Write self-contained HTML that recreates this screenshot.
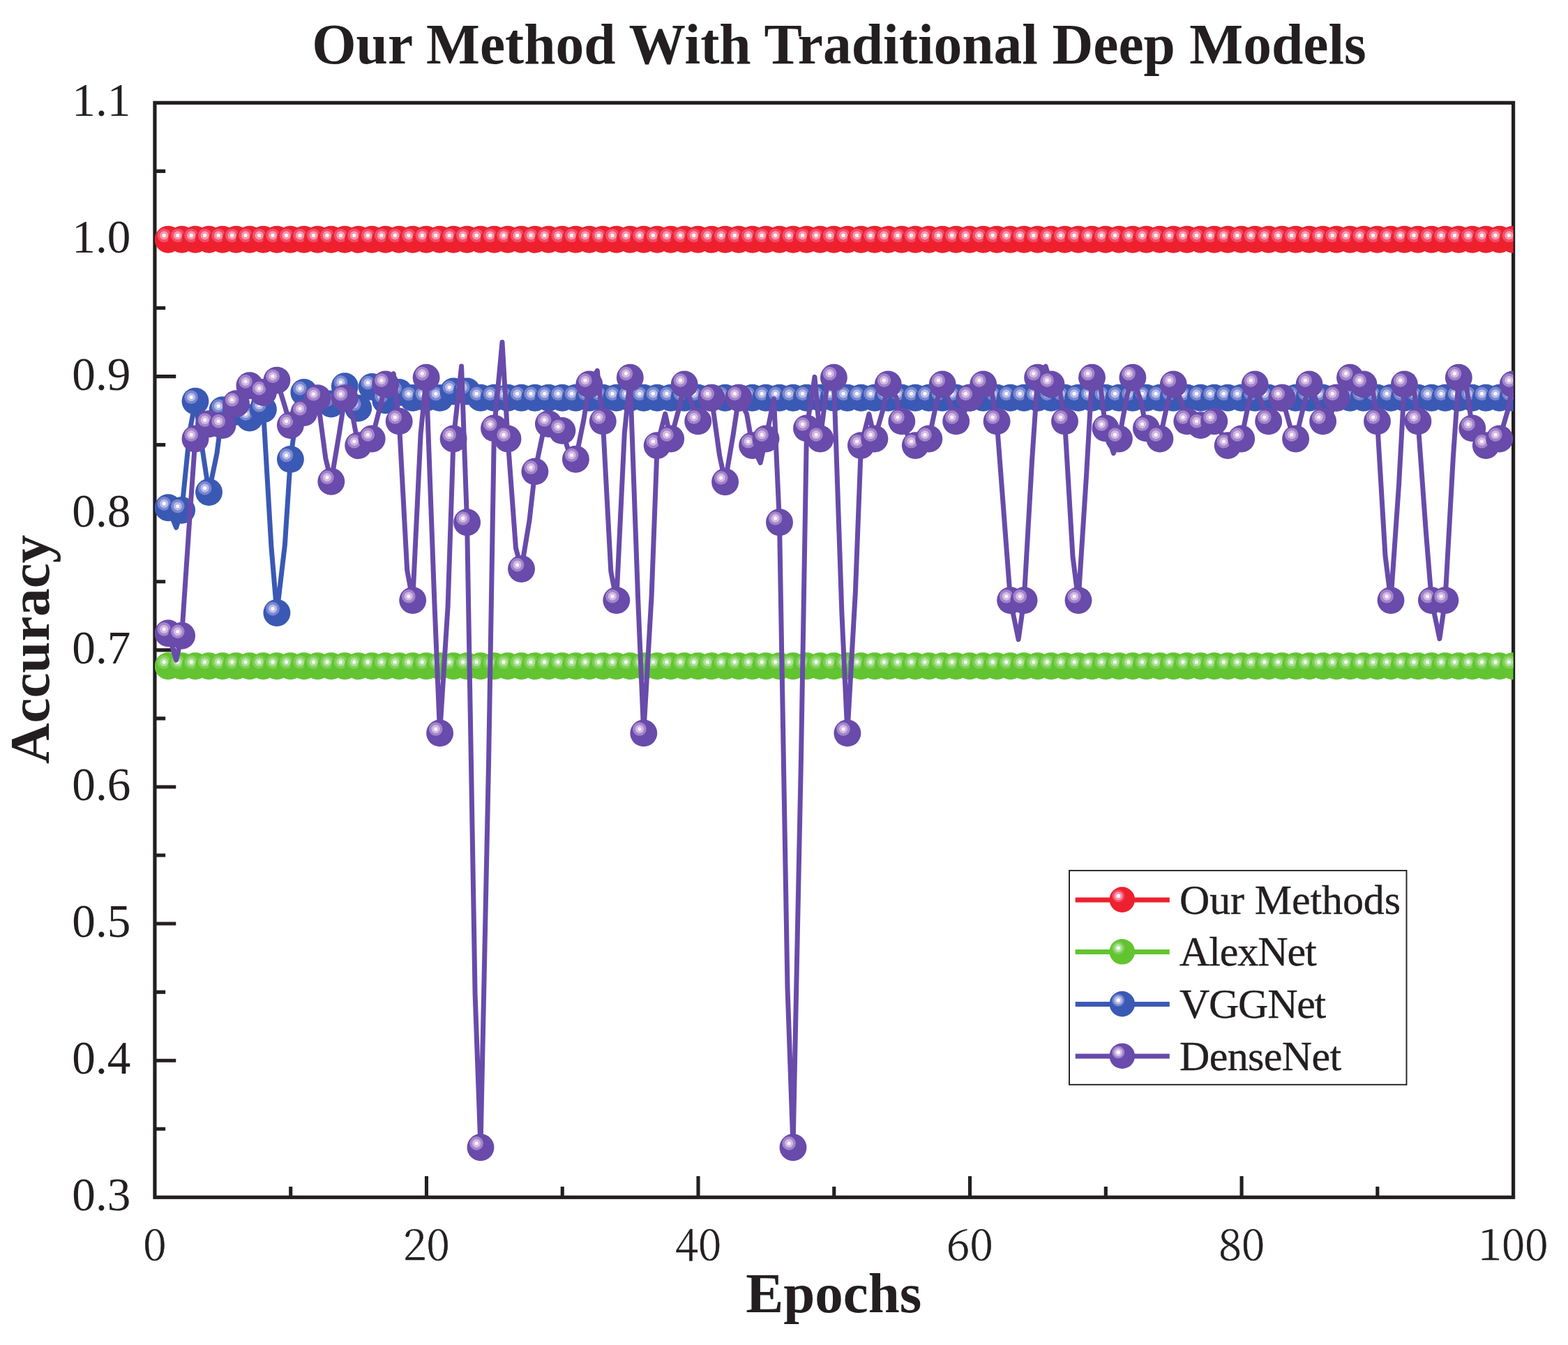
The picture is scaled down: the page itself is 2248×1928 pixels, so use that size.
<!DOCTYPE html>
<html lang="en"><head><meta charset="utf-8"><title>Our Method With Traditional Deep Models</title>
<style>
html,body{margin:0;padding:0;background:#fff;}
body{width:2248px;height:1928px;overflow:hidden;}
svg{display:block;position:absolute;left:0;top:0;}
text{fill:#231f20;font-family:"Liberation Serif",serif;}
.b{font-weight:700;}
.xt{font-family:"Noto Serif CJK SC","Liberation Serif",serif;font-weight:300;}
</style></head><body>
<svg width="2248" height="1928" viewBox="0 0 2248 1928">
<defs>
<clipPath id="pc"><rect x="221.95" y="147.35" width="1947.65" height="1568.95"/></clipPath>
<g id="m-red"><circle r="19.45" fill="#ee202e"/><circle cx="-5.85" cy="-5.85" r="9.8" fill="#f24e6a"/><circle cx="-5.85" cy="-5.85" r="6.1" fill="#f798ac"/><circle cx="-5.85" cy="-5.85" r="2.6" fill="#fffafc"/></g>
<g id="l-red"><circle r="18.3" fill="#ee202e"/><circle cx="-5.5" cy="-5.3" r="8.9" fill="#f24e6a"/><circle cx="-5.5" cy="-5.3" r="6" fill="#f798ac"/><circle cx="-5.5" cy="-5.3" r="2.8" fill="#fffafc"/></g>
<g id="m-green"><circle r="19.45" fill="#62c431"/><circle cx="-5.85" cy="-5.85" r="9.8" fill="#80d058"/><circle cx="-5.85" cy="-5.85" r="6.1" fill="#ace298"/><circle cx="-5.85" cy="-5.85" r="2.6" fill="#fafef8"/></g>
<g id="l-green"><circle r="18.3" fill="#62c431"/><circle cx="-5.5" cy="-5.3" r="8.9" fill="#80d058"/><circle cx="-5.5" cy="-5.3" r="6" fill="#ace298"/><circle cx="-5.5" cy="-5.3" r="2.8" fill="#fafef8"/></g>
<g id="m-blue"><circle r="19.45" fill="#3a59b4"/><circle cx="-5.85" cy="-5.85" r="9.8" fill="#7a87d0"/><circle cx="-5.85" cy="-5.85" r="6.1" fill="#b8bee8"/><circle cx="-5.85" cy="-5.85" r="2.6" fill="#fcfcff"/></g>
<g id="l-blue"><circle r="18.3" fill="#3a59b4"/><circle cx="-5.5" cy="-5.3" r="8.9" fill="#7a87d0"/><circle cx="-5.5" cy="-5.3" r="6" fill="#b8bee8"/><circle cx="-5.5" cy="-5.3" r="2.8" fill="#fcfcff"/></g>
<g id="m-purple"><circle r="19.45" fill="#684baa"/><circle cx="-5.85" cy="-5.85" r="9.8" fill="#a484ca"/><circle cx="-5.85" cy="-5.85" r="6.1" fill="#d3b8e2"/><circle cx="-5.85" cy="-5.85" r="2.6" fill="#fdf7fc"/></g>
<g id="l-purple"><circle r="18.3" fill="#684baa"/><circle cx="-5.5" cy="-5.3" r="8.9" fill="#a484ca"/><circle cx="-5.5" cy="-5.3" r="6" fill="#d3b8e2"/><circle cx="-5.5" cy="-5.3" r="2.8" fill="#fdf7fc"/></g>
</defs>
<rect width="2248" height="1928" fill="#fff"/>
<rect x="221.95" y="147.35" width="1947.65" height="1568.95" fill="none" stroke="#231f20" stroke-width="5.2"/>
<path d="M221.95 1618.24h15.20M221.95 1520.18h30.30M221.95 1422.12h15.20M221.95 1324.06h30.30M221.95 1226.00h15.20M221.95 1127.94h30.30M221.95 1029.88h15.20M221.95 931.83h30.30M221.95 833.77h15.20M221.95 735.71h30.30M221.95 637.65h15.20M221.95 539.59h30.30M221.95 441.53h15.20M221.95 343.47h30.30M221.95 245.41h15.20M416.71 1716.30v-15.20M611.48 1716.30v-30.30M806.24 1716.30v-15.20M1001.01 1716.30v-30.30M1195.78 1716.30v-15.20M1390.54 1716.30v-30.30M1585.31 1716.30v-15.20M1780.07 1716.30v-30.30M1974.84 1716.30v-15.20" fill="none" stroke="#231f20" stroke-width="5.1"/>
<g clip-path="url(#pc)">
<path d="M241.43 343.27H2169.60" fill="none" stroke="#ee202e" stroke-width="7.0" stroke-linejoin="round" stroke-linecap="round"/>
<g><use href="#m-red" x="241.1" y="343.3"/><use href="#m-red" x="260.6" y="343.3"/><use href="#m-red" x="280.0" y="343.3"/><use href="#m-red" x="299.5" y="343.3"/><use href="#m-red" x="319.0" y="343.3"/><use href="#m-red" x="338.5" y="343.3"/><use href="#m-red" x="357.9" y="343.3"/><use href="#m-red" x="377.4" y="343.3"/><use href="#m-red" x="396.9" y="343.3"/><use href="#m-red" x="416.4" y="343.3"/><use href="#m-red" x="435.8" y="343.3"/><use href="#m-red" x="455.3" y="343.3"/><use href="#m-red" x="474.8" y="343.3"/><use href="#m-red" x="494.3" y="343.3"/><use href="#m-red" x="513.7" y="343.3"/><use href="#m-red" x="533.2" y="343.3"/><use href="#m-red" x="552.7" y="343.3"/><use href="#m-red" x="572.2" y="343.3"/><use href="#m-red" x="591.7" y="343.3"/><use href="#m-red" x="611.1" y="343.3"/><use href="#m-red" x="630.6" y="343.3"/><use href="#m-red" x="650.1" y="343.3"/><use href="#m-red" x="669.6" y="343.3"/><use href="#m-red" x="689.0" y="343.3"/><use href="#m-red" x="708.5" y="343.3"/><use href="#m-red" x="728.0" y="343.3"/><use href="#m-red" x="747.5" y="343.3"/><use href="#m-red" x="766.9" y="343.3"/><use href="#m-red" x="786.4" y="343.3"/><use href="#m-red" x="805.9" y="343.3"/><use href="#m-red" x="825.4" y="343.3"/><use href="#m-red" x="844.8" y="343.3"/><use href="#m-red" x="864.3" y="343.3"/><use href="#m-red" x="883.8" y="343.3"/><use href="#m-red" x="903.3" y="343.3"/><use href="#m-red" x="922.8" y="343.3"/><use href="#m-red" x="942.2" y="343.3"/><use href="#m-red" x="961.7" y="343.3"/><use href="#m-red" x="981.2" y="343.3"/><use href="#m-red" x="1000.7" y="343.3"/><use href="#m-red" x="1020.1" y="343.3"/><use href="#m-red" x="1039.6" y="343.3"/><use href="#m-red" x="1059.1" y="343.3"/><use href="#m-red" x="1078.6" y="343.3"/><use href="#m-red" x="1098.0" y="343.3"/><use href="#m-red" x="1117.5" y="343.3"/><use href="#m-red" x="1137.0" y="343.3"/><use href="#m-red" x="1156.5" y="343.3"/><use href="#m-red" x="1175.9" y="343.3"/><use href="#m-red" x="1195.4" y="343.3"/><use href="#m-red" x="1214.9" y="343.3"/><use href="#m-red" x="1234.4" y="343.3"/><use href="#m-red" x="1253.9" y="343.3"/><use href="#m-red" x="1273.3" y="343.3"/><use href="#m-red" x="1292.8" y="343.3"/><use href="#m-red" x="1312.3" y="343.3"/><use href="#m-red" x="1331.8" y="343.3"/><use href="#m-red" x="1351.2" y="343.3"/><use href="#m-red" x="1370.7" y="343.3"/><use href="#m-red" x="1390.2" y="343.3"/><use href="#m-red" x="1409.7" y="343.3"/><use href="#m-red" x="1429.1" y="343.3"/><use href="#m-red" x="1448.6" y="343.3"/><use href="#m-red" x="1468.1" y="343.3"/><use href="#m-red" x="1487.6" y="343.3"/><use href="#m-red" x="1507.0" y="343.3"/><use href="#m-red" x="1526.5" y="343.3"/><use href="#m-red" x="1546.0" y="343.3"/><use href="#m-red" x="1565.5" y="343.3"/><use href="#m-red" x="1585.0" y="343.3"/><use href="#m-red" x="1604.4" y="343.3"/><use href="#m-red" x="1623.9" y="343.3"/><use href="#m-red" x="1643.4" y="343.3"/><use href="#m-red" x="1662.9" y="343.3"/><use href="#m-red" x="1682.3" y="343.3"/><use href="#m-red" x="1701.8" y="343.3"/><use href="#m-red" x="1721.3" y="343.3"/><use href="#m-red" x="1740.8" y="343.3"/><use href="#m-red" x="1760.2" y="343.3"/><use href="#m-red" x="1779.7" y="343.3"/><use href="#m-red" x="1799.2" y="343.3"/><use href="#m-red" x="1818.7" y="343.3"/><use href="#m-red" x="1838.1" y="343.3"/><use href="#m-red" x="1857.6" y="343.3"/><use href="#m-red" x="1877.1" y="343.3"/><use href="#m-red" x="1896.6" y="343.3"/><use href="#m-red" x="1916.1" y="343.3"/><use href="#m-red" x="1935.5" y="343.3"/><use href="#m-red" x="1955.0" y="343.3"/><use href="#m-red" x="1974.5" y="343.3"/><use href="#m-red" x="1994.0" y="343.3"/><use href="#m-red" x="2013.4" y="343.3"/><use href="#m-red" x="2032.9" y="343.3"/><use href="#m-red" x="2052.4" y="343.3"/><use href="#m-red" x="2071.9" y="343.3"/><use href="#m-red" x="2091.3" y="343.3"/><use href="#m-red" x="2110.8" y="343.3"/><use href="#m-red" x="2130.3" y="343.3"/><use href="#m-red" x="2149.8" y="343.3"/><use href="#m-red" x="2169.2" y="343.3"/></g>
<path d="M241.43 954.77H2169.60" fill="none" stroke="#62c431" stroke-width="7.0" stroke-linejoin="round" stroke-linecap="round"/>
<g><use href="#m-green" x="241.1" y="954.8"/><use href="#m-green" x="260.6" y="954.8"/><use href="#m-green" x="280.0" y="954.8"/><use href="#m-green" x="299.5" y="954.8"/><use href="#m-green" x="319.0" y="954.8"/><use href="#m-green" x="338.5" y="954.8"/><use href="#m-green" x="357.9" y="954.8"/><use href="#m-green" x="377.4" y="954.8"/><use href="#m-green" x="396.9" y="954.8"/><use href="#m-green" x="416.4" y="954.8"/><use href="#m-green" x="435.8" y="954.8"/><use href="#m-green" x="455.3" y="954.8"/><use href="#m-green" x="474.8" y="954.8"/><use href="#m-green" x="494.3" y="954.8"/><use href="#m-green" x="513.7" y="954.8"/><use href="#m-green" x="533.2" y="954.8"/><use href="#m-green" x="552.7" y="954.8"/><use href="#m-green" x="572.2" y="954.8"/><use href="#m-green" x="591.7" y="954.8"/><use href="#m-green" x="611.1" y="954.8"/><use href="#m-green" x="630.6" y="954.8"/><use href="#m-green" x="650.1" y="954.8"/><use href="#m-green" x="669.6" y="954.8"/><use href="#m-green" x="689.0" y="954.8"/><use href="#m-green" x="708.5" y="954.8"/><use href="#m-green" x="728.0" y="954.8"/><use href="#m-green" x="747.5" y="954.8"/><use href="#m-green" x="766.9" y="954.8"/><use href="#m-green" x="786.4" y="954.8"/><use href="#m-green" x="805.9" y="954.8"/><use href="#m-green" x="825.4" y="954.8"/><use href="#m-green" x="844.8" y="954.8"/><use href="#m-green" x="864.3" y="954.8"/><use href="#m-green" x="883.8" y="954.8"/><use href="#m-green" x="903.3" y="954.8"/><use href="#m-green" x="922.8" y="954.8"/><use href="#m-green" x="942.2" y="954.8"/><use href="#m-green" x="961.7" y="954.8"/><use href="#m-green" x="981.2" y="954.8"/><use href="#m-green" x="1000.7" y="954.8"/><use href="#m-green" x="1020.1" y="954.8"/><use href="#m-green" x="1039.6" y="954.8"/><use href="#m-green" x="1059.1" y="954.8"/><use href="#m-green" x="1078.6" y="954.8"/><use href="#m-green" x="1098.0" y="954.8"/><use href="#m-green" x="1117.5" y="954.8"/><use href="#m-green" x="1137.0" y="954.8"/><use href="#m-green" x="1156.5" y="954.8"/><use href="#m-green" x="1175.9" y="954.8"/><use href="#m-green" x="1195.4" y="954.8"/><use href="#m-green" x="1214.9" y="954.8"/><use href="#m-green" x="1234.4" y="954.8"/><use href="#m-green" x="1253.9" y="954.8"/><use href="#m-green" x="1273.3" y="954.8"/><use href="#m-green" x="1292.8" y="954.8"/><use href="#m-green" x="1312.3" y="954.8"/><use href="#m-green" x="1331.8" y="954.8"/><use href="#m-green" x="1351.2" y="954.8"/><use href="#m-green" x="1370.7" y="954.8"/><use href="#m-green" x="1390.2" y="954.8"/><use href="#m-green" x="1409.7" y="954.8"/><use href="#m-green" x="1429.1" y="954.8"/><use href="#m-green" x="1448.6" y="954.8"/><use href="#m-green" x="1468.1" y="954.8"/><use href="#m-green" x="1487.6" y="954.8"/><use href="#m-green" x="1507.0" y="954.8"/><use href="#m-green" x="1526.5" y="954.8"/><use href="#m-green" x="1546.0" y="954.8"/><use href="#m-green" x="1565.5" y="954.8"/><use href="#m-green" x="1585.0" y="954.8"/><use href="#m-green" x="1604.4" y="954.8"/><use href="#m-green" x="1623.9" y="954.8"/><use href="#m-green" x="1643.4" y="954.8"/><use href="#m-green" x="1662.9" y="954.8"/><use href="#m-green" x="1682.3" y="954.8"/><use href="#m-green" x="1701.8" y="954.8"/><use href="#m-green" x="1721.3" y="954.8"/><use href="#m-green" x="1740.8" y="954.8"/><use href="#m-green" x="1760.2" y="954.8"/><use href="#m-green" x="1779.7" y="954.8"/><use href="#m-green" x="1799.2" y="954.8"/><use href="#m-green" x="1818.7" y="954.8"/><use href="#m-green" x="1838.1" y="954.8"/><use href="#m-green" x="1857.6" y="954.8"/><use href="#m-green" x="1877.1" y="954.8"/><use href="#m-green" x="1896.6" y="954.8"/><use href="#m-green" x="1916.1" y="954.8"/><use href="#m-green" x="1935.5" y="954.8"/><use href="#m-green" x="1955.0" y="954.8"/><use href="#m-green" x="1974.5" y="954.8"/><use href="#m-green" x="1994.0" y="954.8"/><use href="#m-green" x="2013.4" y="954.8"/><use href="#m-green" x="2032.9" y="954.8"/><use href="#m-green" x="2052.4" y="954.8"/><use href="#m-green" x="2071.9" y="954.8"/><use href="#m-green" x="2091.3" y="954.8"/><use href="#m-green" x="2110.8" y="954.8"/><use href="#m-green" x="2130.3" y="954.8"/><use href="#m-green" x="2149.8" y="954.8"/><use href="#m-green" x="2169.2" y="954.8"/></g>
<path d="M241.1 727.7L252.6 756.3L260.6 731.4L272.0 618.3L280.0 575.1L291.5 653.2L299.5 705.5L311.0 649.9L319.0 587.8L330.5 571.2L338.5 590.4L350.0 610.8L357.9 599.0L369.4 554.4L377.4 586.8L388.9 783.4L396.9 878.5L408.4 781.2L416.4 658.4L427.9 573.8L435.8 562.5L447.3 564.9L455.3 571.7L466.8 581.2L474.8 579.0L486.3 559.6L494.3 553.7L505.8 574.4L513.7 585.1L525.2 567.4L533.2 554.5L544.7 564.0L552.7 573.7L564.2 568.7L572.2 562.5L583.7 565.7L591.7 570.4L603.1 571.3L611.1 570.4L622.6 571.0L630.6 570.4L642.1 565.0L650.1 561.0L661.6 559.1L669.6 561.0L681.1 566.8L689.0 570.2L700.5 570.9L708.5 570.2L720.0 570.0L728.0 570.2L739.5 570.2L747.5 570.2L759.0 570.2L766.9 570.2L778.4 570.2L786.4 570.2L797.9 570.2L805.9 570.2L817.4 570.2L825.4 570.2L836.9 570.2L844.8 570.2L856.3 570.2L864.3 570.2L875.8 570.2L883.8 570.2L895.3 570.2L903.3 570.2L914.8 570.2L922.8 570.2L934.2 570.2L942.2 570.2L953.7 570.2L961.7 570.2L973.2 570.2L981.2 570.2L992.7 570.2L1000.7 570.2L1012.2 570.2L1020.1 570.2L1031.6 570.2L1039.6 570.2L1051.1 570.2L1059.1 570.2L1070.6 570.2L1078.6 570.2L1090.1 570.2L1098.0 570.2L1109.5 570.2L1117.5 570.2L1129.0 570.2L1137.0 570.2L1148.5 570.2L1156.5 570.2L1168.0 570.2L1175.9 570.2L1187.4 570.2L1195.4 570.2L1206.9 570.2L1214.9 570.2L1226.4 570.2L1234.4 570.2L1245.9 570.2L1253.9 570.2L1265.3 570.2L1273.3 570.2L1284.8 570.2L1292.8 570.2L1304.3 570.2L1312.3 570.2L1323.8 570.2L1331.8 570.2L1343.3 570.2L1351.2 570.2L1362.7 570.2L1370.7 570.2L1382.2 570.2L1390.2 570.2L1401.7 570.2L1409.7 570.2L1421.2 570.2L1429.1 570.2L1440.6 570.2L1448.6 570.2L1460.1 570.2L1468.1 570.2L1479.6 570.2L1487.6 570.2L1499.1 570.2L1507.0 570.2L1518.5 570.2L1526.5 570.2L1538.0 570.2L1546.0 570.2L1557.5 570.2L1565.5 570.2L1577.0 570.2L1585.0 570.2L1596.4 570.2L1604.4 570.2L1615.9 570.2L1623.9 570.2L1635.4 570.2L1643.4 570.2L1654.9 570.2L1662.9 570.2L1674.4 570.2L1682.3 570.2L1693.8 570.2L1701.8 570.2L1713.3 570.2L1721.3 570.2L1732.8 570.2L1740.8 570.2L1752.3 570.2L1760.2 570.2L1771.7 570.2L1779.7 570.2L1791.2 570.2L1799.2 570.2L1810.7 570.2L1818.7 570.2L1830.2 570.2L1838.1 570.2L1849.6 570.2L1857.6 570.2L1869.1 570.2L1877.1 570.2L1888.6 570.2L1896.6 570.2L1908.1 570.2L1916.1 570.2L1927.5 570.2L1935.5 570.2L1947.0 570.2L1955.0 570.2L1966.5 570.2L1974.5 570.2L1986.0 570.2L1994.0 570.2L2005.5 570.2L2013.4 570.2L2024.9 570.2L2032.9 570.2L2044.4 570.2L2052.4 570.2L2063.9 570.2L2071.9 570.2L2083.4 570.2L2091.3 570.2L2102.8 570.2L2110.8 570.2L2122.3 570.2L2130.3 570.2L2141.8 570.2L2149.8 570.2L2161.3 570.2L2169.2 570.2" fill="none" stroke="#3a59b4" stroke-width="7.0" stroke-linejoin="round" stroke-linecap="round"/>
<g><use href="#m-blue" x="241.1" y="727.7"/><use href="#m-blue" x="260.6" y="731.4"/><use href="#m-blue" x="280.0" y="575.1"/><use href="#m-blue" x="299.5" y="705.5"/><use href="#m-blue" x="319.0" y="587.8"/><use href="#m-blue" x="338.5" y="590.4"/><use href="#m-blue" x="357.9" y="599.0"/><use href="#m-blue" x="377.4" y="586.8"/><use href="#m-blue" x="396.9" y="878.5"/><use href="#m-blue" x="416.4" y="658.4"/><use href="#m-blue" x="435.8" y="562.5"/><use href="#m-blue" x="455.3" y="571.7"/><use href="#m-blue" x="474.8" y="579.0"/><use href="#m-blue" x="494.3" y="553.7"/><use href="#m-blue" x="513.7" y="585.1"/><use href="#m-blue" x="533.2" y="554.5"/><use href="#m-blue" x="552.7" y="573.7"/><use href="#m-blue" x="572.2" y="562.5"/><use href="#m-blue" x="591.7" y="570.4"/><use href="#m-blue" x="611.1" y="570.4"/><use href="#m-blue" x="630.6" y="570.4"/><use href="#m-blue" x="650.1" y="561.0"/><use href="#m-blue" x="669.6" y="561.0"/><use href="#m-blue" x="689.0" y="570.2"/><use href="#m-blue" x="708.5" y="570.2"/><use href="#m-blue" x="728.0" y="570.2"/><use href="#m-blue" x="747.5" y="570.2"/><use href="#m-blue" x="766.9" y="570.2"/><use href="#m-blue" x="786.4" y="570.2"/><use href="#m-blue" x="805.9" y="570.2"/><use href="#m-blue" x="825.4" y="570.2"/><use href="#m-blue" x="844.8" y="570.2"/><use href="#m-blue" x="864.3" y="570.2"/><use href="#m-blue" x="883.8" y="570.2"/><use href="#m-blue" x="903.3" y="570.2"/><use href="#m-blue" x="922.8" y="570.2"/><use href="#m-blue" x="942.2" y="570.2"/><use href="#m-blue" x="961.7" y="570.2"/><use href="#m-blue" x="981.2" y="570.2"/><use href="#m-blue" x="1000.7" y="570.2"/><use href="#m-blue" x="1020.1" y="570.2"/><use href="#m-blue" x="1039.6" y="570.2"/><use href="#m-blue" x="1059.1" y="570.2"/><use href="#m-blue" x="1078.6" y="570.2"/><use href="#m-blue" x="1098.0" y="570.2"/><use href="#m-blue" x="1117.5" y="570.2"/><use href="#m-blue" x="1137.0" y="570.2"/><use href="#m-blue" x="1156.5" y="570.2"/><use href="#m-blue" x="1175.9" y="570.2"/><use href="#m-blue" x="1195.4" y="570.2"/><use href="#m-blue" x="1214.9" y="570.2"/><use href="#m-blue" x="1234.4" y="570.2"/><use href="#m-blue" x="1253.9" y="570.2"/><use href="#m-blue" x="1273.3" y="570.2"/><use href="#m-blue" x="1292.8" y="570.2"/><use href="#m-blue" x="1312.3" y="570.2"/><use href="#m-blue" x="1331.8" y="570.2"/><use href="#m-blue" x="1351.2" y="570.2"/><use href="#m-blue" x="1370.7" y="570.2"/><use href="#m-blue" x="1390.2" y="570.2"/><use href="#m-blue" x="1409.7" y="570.2"/><use href="#m-blue" x="1429.1" y="570.2"/><use href="#m-blue" x="1448.6" y="570.2"/><use href="#m-blue" x="1468.1" y="570.2"/><use href="#m-blue" x="1487.6" y="570.2"/><use href="#m-blue" x="1507.0" y="570.2"/><use href="#m-blue" x="1526.5" y="570.2"/><use href="#m-blue" x="1546.0" y="570.2"/><use href="#m-blue" x="1565.5" y="570.2"/><use href="#m-blue" x="1585.0" y="570.2"/><use href="#m-blue" x="1604.4" y="570.2"/><use href="#m-blue" x="1623.9" y="570.2"/><use href="#m-blue" x="1643.4" y="570.2"/><use href="#m-blue" x="1662.9" y="570.2"/><use href="#m-blue" x="1682.3" y="570.2"/><use href="#m-blue" x="1701.8" y="570.2"/><use href="#m-blue" x="1721.3" y="570.2"/><use href="#m-blue" x="1740.8" y="570.2"/><use href="#m-blue" x="1760.2" y="570.2"/><use href="#m-blue" x="1779.7" y="570.2"/><use href="#m-blue" x="1799.2" y="570.2"/><use href="#m-blue" x="1818.7" y="570.2"/><use href="#m-blue" x="1838.1" y="570.2"/><use href="#m-blue" x="1857.6" y="570.2"/><use href="#m-blue" x="1877.1" y="570.2"/><use href="#m-blue" x="1896.6" y="570.2"/><use href="#m-blue" x="1916.1" y="570.2"/><use href="#m-blue" x="1935.5" y="570.2"/><use href="#m-blue" x="1955.0" y="570.2"/><use href="#m-blue" x="1974.5" y="570.2"/><use href="#m-blue" x="1994.0" y="570.2"/><use href="#m-blue" x="2013.4" y="570.2"/><use href="#m-blue" x="2032.9" y="570.2"/><use href="#m-blue" x="2052.4" y="570.2"/><use href="#m-blue" x="2071.9" y="570.2"/><use href="#m-blue" x="2091.3" y="570.2"/><use href="#m-blue" x="2110.8" y="570.2"/><use href="#m-blue" x="2130.3" y="570.2"/><use href="#m-blue" x="2149.8" y="570.2"/><use href="#m-blue" x="2169.2" y="570.2"/></g>
<path d="M241.1 907.7L252.6 946.2L260.6 911.2L272.0 741.2L280.0 629.0L291.5 591.2L299.5 607.8L311.0 615.9L319.0 609.6L330.5 593.2L338.5 578.8L350.0 558.6L357.9 552.7L369.4 560.8L377.4 562.5L388.9 546.3L396.9 545.1L408.4 582.4L416.4 609.6L427.9 611.5L435.8 591.6L447.3 558.8L455.3 570.6L466.8 656.8L474.8 690.2L486.3 621.3L494.3 570.6L505.8 597.7L513.7 638.6L525.2 649.2L533.2 629.0L544.7 583.8L552.7 551.0L564.2 535.7L572.2 603.9L583.7 817.4L591.7 860.6L603.1 622.5L611.1 541.3L622.6 856.4L630.6 1050.9L642.1 869.3L650.1 629.0L661.6 525.1L669.6 748.8L681.1 1425.2L689.0 1644.7L700.5 1096.4L708.5 613.9L720.0 490.4L728.0 629.0L739.5 785.6L747.5 815.5L759.0 746.1L766.9 675.9L778.4 621.0L786.4 607.6L797.9 604.4L805.9 617.4L817.4 653.6L825.4 658.2L836.9 601.8L844.8 551.0L856.3 531.3L864.3 603.9L875.8 818.9L883.8 860.6L895.3 620.9L903.3 541.3L914.8 861.5L922.8 1050.9L934.2 852.6L942.2 638.6L953.7 593.1L961.7 629.0L973.2 586.5L981.2 551.0L992.7 581.0L1000.7 603.9L1012.2 574.0L1020.1 570.2L1031.6 652.9L1039.6 690.8L1051.1 623.4L1059.1 570.2L1070.6 593.4L1078.6 638.6L1090.1 663.4L1098.0 629.0L1109.5 571.8L1117.5 748.8L1129.0 1416.1L1137.0 1644.7L1148.5 1086.2L1156.5 613.9L1168.0 540.4L1175.9 629.0L1187.4 540.0L1195.4 541.3L1206.9 878.9L1214.9 1050.9L1226.4 848.2L1234.4 638.6L1245.9 593.5L1253.9 629.0L1265.3 589.2L1273.3 551.0L1284.8 569.7L1292.8 603.9L1304.3 630.6L1312.3 638.6L1323.8 644.0L1331.8 629.0L1343.3 574.1L1351.2 551.0L1362.7 579.7L1370.7 603.9L1382.2 591.6L1390.2 570.2L1401.7 554.9L1409.7 551.0L1421.2 557.6L1429.1 603.9L1440.6 754.9L1448.6 860.6L1460.1 916.6L1468.1 860.6L1479.6 659.3L1487.6 541.3L1499.1 525.2L1507.0 551.0L1518.5 553.7L1526.5 603.9L1538.0 798.0L1546.0 860.6L1557.5 682.3L1565.5 541.3L1577.0 547.1L1585.0 613.9L1596.4 649.6L1604.4 629.0L1615.9 566.5L1623.9 541.3L1635.4 574.2L1643.4 613.9L1654.9 641.1L1662.9 629.0L1674.4 575.4L1682.3 551.0L1693.8 575.5L1701.8 603.9L1713.3 615.2L1721.3 609.6L1732.8 601.7L1740.8 603.9L1752.3 623.0L1760.2 638.6L1771.7 646.2L1779.7 629.0L1791.2 572.8L1799.2 551.0L1810.7 582.7L1818.7 603.9L1830.2 580.8L1838.1 570.2L1849.6 611.3L1857.6 629.0L1869.1 581.7L1877.1 551.0L1888.6 577.2L1896.6 603.9L1908.1 594.0L1916.1 570.2L1927.5 545.8L1935.5 541.3L1947.0 550.0L1955.0 551.0L1966.5 547.8L1974.5 603.9L1986.0 796.7L1994.0 860.6L2005.5 695.2L2013.4 551.0L2024.9 539.4L2032.9 603.9L2044.4 763.1L2052.4 860.6L2063.9 915.6L2071.9 860.6L2083.4 655.0L2091.3 541.3L2102.8 556.4L2110.8 613.9L2122.3 641.7L2130.3 638.6L2141.8 637.5L2149.8 629.0L2161.3 589.5L2169.2 551.0" fill="none" stroke="#684baa" stroke-width="7.0" stroke-linejoin="round" stroke-linecap="round"/>
<g><use href="#m-purple" x="241.1" y="907.7"/><use href="#m-purple" x="260.6" y="911.2"/><use href="#m-purple" x="280.0" y="629.0"/><use href="#m-purple" x="299.5" y="607.8"/><use href="#m-purple" x="319.0" y="609.6"/><use href="#m-purple" x="338.5" y="578.8"/><use href="#m-purple" x="357.9" y="552.7"/><use href="#m-purple" x="377.4" y="562.5"/><use href="#m-purple" x="396.9" y="545.1"/><use href="#m-purple" x="416.4" y="609.6"/><use href="#m-purple" x="435.8" y="591.6"/><use href="#m-purple" x="455.3" y="570.6"/><use href="#m-purple" x="474.8" y="690.2"/><use href="#m-purple" x="494.3" y="570.6"/><use href="#m-purple" x="513.7" y="638.6"/><use href="#m-purple" x="533.2" y="629.0"/><use href="#m-purple" x="552.7" y="551.0"/><use href="#m-purple" x="572.2" y="603.9"/><use href="#m-purple" x="591.7" y="860.6"/><use href="#m-purple" x="611.1" y="541.3"/><use href="#m-purple" x="630.6" y="1050.9"/><use href="#m-purple" x="650.1" y="629.0"/><use href="#m-purple" x="669.6" y="748.8"/><use href="#m-purple" x="689.0" y="1644.7"/><use href="#m-purple" x="708.5" y="613.9"/><use href="#m-purple" x="728.0" y="629.0"/><use href="#m-purple" x="747.5" y="815.5"/><use href="#m-purple" x="766.9" y="675.9"/><use href="#m-purple" x="786.4" y="607.6"/><use href="#m-purple" x="805.9" y="617.4"/><use href="#m-purple" x="825.4" y="658.2"/><use href="#m-purple" x="844.8" y="551.0"/><use href="#m-purple" x="864.3" y="603.9"/><use href="#m-purple" x="883.8" y="860.6"/><use href="#m-purple" x="903.3" y="541.3"/><use href="#m-purple" x="922.8" y="1050.9"/><use href="#m-purple" x="942.2" y="638.6"/><use href="#m-purple" x="961.7" y="629.0"/><use href="#m-purple" x="981.2" y="551.0"/><use href="#m-purple" x="1000.7" y="603.9"/><use href="#m-purple" x="1020.1" y="570.2"/><use href="#m-purple" x="1039.6" y="690.8"/><use href="#m-purple" x="1059.1" y="570.2"/><use href="#m-purple" x="1078.6" y="638.6"/><use href="#m-purple" x="1098.0" y="629.0"/><use href="#m-purple" x="1117.5" y="748.8"/><use href="#m-purple" x="1137.0" y="1644.7"/><use href="#m-purple" x="1156.5" y="613.9"/><use href="#m-purple" x="1175.9" y="629.0"/><use href="#m-purple" x="1195.4" y="541.3"/><use href="#m-purple" x="1214.9" y="1050.9"/><use href="#m-purple" x="1234.4" y="638.6"/><use href="#m-purple" x="1253.9" y="629.0"/><use href="#m-purple" x="1273.3" y="551.0"/><use href="#m-purple" x="1292.8" y="603.9"/><use href="#m-purple" x="1312.3" y="638.6"/><use href="#m-purple" x="1331.8" y="629.0"/><use href="#m-purple" x="1351.2" y="551.0"/><use href="#m-purple" x="1370.7" y="603.9"/><use href="#m-purple" x="1390.2" y="570.2"/><use href="#m-purple" x="1409.7" y="551.0"/><use href="#m-purple" x="1429.1" y="603.9"/><use href="#m-purple" x="1448.6" y="860.6"/><use href="#m-purple" x="1468.1" y="860.6"/><use href="#m-purple" x="1487.6" y="541.3"/><use href="#m-purple" x="1507.0" y="551.0"/><use href="#m-purple" x="1526.5" y="603.9"/><use href="#m-purple" x="1546.0" y="860.6"/><use href="#m-purple" x="1565.5" y="541.3"/><use href="#m-purple" x="1585.0" y="613.9"/><use href="#m-purple" x="1604.4" y="629.0"/><use href="#m-purple" x="1623.9" y="541.3"/><use href="#m-purple" x="1643.4" y="613.9"/><use href="#m-purple" x="1662.9" y="629.0"/><use href="#m-purple" x="1682.3" y="551.0"/><use href="#m-purple" x="1701.8" y="603.9"/><use href="#m-purple" x="1721.3" y="609.6"/><use href="#m-purple" x="1740.8" y="603.9"/><use href="#m-purple" x="1760.2" y="638.6"/><use href="#m-purple" x="1779.7" y="629.0"/><use href="#m-purple" x="1799.2" y="551.0"/><use href="#m-purple" x="1818.7" y="603.9"/><use href="#m-purple" x="1838.1" y="570.2"/><use href="#m-purple" x="1857.6" y="629.0"/><use href="#m-purple" x="1877.1" y="551.0"/><use href="#m-purple" x="1896.6" y="603.9"/><use href="#m-purple" x="1916.1" y="570.2"/><use href="#m-purple" x="1935.5" y="541.3"/><use href="#m-purple" x="1955.0" y="551.0"/><use href="#m-purple" x="1974.5" y="603.9"/><use href="#m-purple" x="1994.0" y="860.6"/><use href="#m-purple" x="2013.4" y="551.0"/><use href="#m-purple" x="2032.9" y="603.9"/><use href="#m-purple" x="2052.4" y="860.6"/><use href="#m-purple" x="2071.9" y="860.6"/><use href="#m-purple" x="2091.3" y="541.3"/><use href="#m-purple" x="2110.8" y="613.9"/><use href="#m-purple" x="2130.3" y="638.6"/><use href="#m-purple" x="2149.8" y="629.0"/><use href="#m-purple" x="2169.2" y="551.0"/></g>
</g>
<text x="187.3" y="1735.2" font-size="67.2" text-anchor="end">0.3</text>
<text x="187.3" y="1539.1" font-size="67.2" text-anchor="end">0.4</text>
<text x="187.3" y="1343.0" font-size="67.2" text-anchor="end">0.5</text>
<text x="187.3" y="1146.8" font-size="67.2" text-anchor="end">0.6</text>
<text x="187.3" y="950.7" font-size="67.2" text-anchor="end">0.7</text>
<text x="187.3" y="754.6" font-size="67.2" text-anchor="end">0.8</text>
<text x="187.3" y="558.5" font-size="67.2" text-anchor="end">0.9</text>
<text x="187.3" y="362.4" font-size="67.2" text-anchor="end">1.0</text>
<text x="187.3" y="166.2" font-size="67.2" text-anchor="end">1.1</text>
<text class="xt" x="221.9" y="1805.6" font-size="61.3" text-anchor="middle" stroke="#231f20" stroke-width="0.55">0</text>
<text class="xt" x="611.5" y="1805.6" font-size="61.3" text-anchor="middle" stroke="#231f20" stroke-width="0.55">20</text>
<text class="xt" x="1001.0" y="1805.6" font-size="61.3" text-anchor="middle" stroke="#231f20" stroke-width="0.55">40</text>
<text class="xt" x="1390.5" y="1805.6" font-size="61.3" text-anchor="middle" stroke="#231f20" stroke-width="0.55">60</text>
<text class="xt" x="1780.1" y="1805.6" font-size="61.3" text-anchor="middle" stroke="#231f20" stroke-width="0.55">80</text>
<text class="xt" x="2169.6" y="1805.6" font-size="61.3" text-anchor="middle" stroke="#231f20" stroke-width="0.55">100</text>
<text class="b" x="1203.0" y="91.2" font-size="81.5" text-anchor="middle">Our Method With Traditional Deep Models</text>
<text class="b" x="1195.2" y="1880.9" font-size="81" text-anchor="middle">Epochs</text>
<text class="b" transform="translate(69.9 930.9) rotate(-90)" font-size="81" text-anchor="middle">Accuracy</text>
<rect x="1533.0" y="1247.9" width="483.5" height="306.9" fill="#fff" stroke="#231f20" stroke-width="1.9"/>
<path d="M1541.7 1289.9H1676.8" stroke="#ee202e" stroke-width="7" fill="none"/>
<use href="#l-red" x="1608.8" y="1289.6"/>
<text x="1691.0" y="1309.7" font-size="60" textLength="317.1" lengthAdjust="spacing" stroke="#231f20" stroke-width="0.35">Our Methods</text>
<path d="M1541.7 1364.6H1676.8" stroke="#62c431" stroke-width="7" fill="none"/>
<use href="#l-green" x="1608.8" y="1364.3"/>
<text x="1691.0" y="1384.4" font-size="60" textLength="196.7" lengthAdjust="spacing" stroke="#231f20" stroke-width="0.35">AlexNet</text>
<path d="M1541.7 1439.4H1676.8" stroke="#3a59b4" stroke-width="7" fill="none"/>
<use href="#l-blue" x="1608.8" y="1439.1"/>
<text x="1691.0" y="1459.2" font-size="60" textLength="210.2" lengthAdjust="spacing" stroke="#231f20" stroke-width="0.35">VGGNet</text>
<path d="M1541.7 1514.0H1676.8" stroke="#684baa" stroke-width="7" fill="none"/>
<use href="#l-purple" x="1608.8" y="1513.7"/>
<text x="1691.0" y="1533.8" font-size="60" textLength="232.1" lengthAdjust="spacing" stroke="#231f20" stroke-width="0.35">DenseNet</text>
</svg></body></html>
